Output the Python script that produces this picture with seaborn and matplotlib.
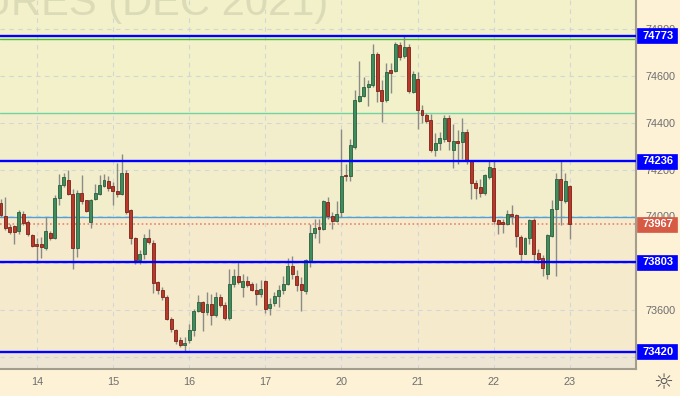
import numpy as np
import pandas as pd
import matplotlib
matplotlib.use("Agg")
import matplotlib.pyplot as plt
import matplotlib.patches as mpatches
import seaborn as sns

# candle data (one row per bar)
opens = [74057, 74002, 73954, 73957, 73937, 74012, 73976, 73919, 73883, 73880,
         73866, 73930, 73907, 74080, 74136, 74155, 74095, 73866, 74100, 74069,
         73976, 74076, 74095, 74129, 74150, 74129, 74107, 74097, 74186, 74029,
         73907, 73812, 73837, 73909, 73886, 73719, 73683, 73657, 73562, 73516,
         73472, 73450, 73469, 73512, 73597, 73633, 73590, 73626, 73576, 73657,
         73619, 73566, 73712, 73743, 73697, 73722, 73709, 73683, 73669, 73722,
         73607, 73630, 73660, 73686, 73709, 73789, 73747, 73709, 73680, 73809,
         73929, 73954, 73945, 74060, 74003, 73980, 74019, 74176, 74173, 74297,
         74494, 74515, 74552, 74562, 74693, 74540, 74497, 74626, 74623, 74733,
         74686, 74723, 74533, 74590, 74455, 74433, 74412, 74283, 74314, 74333,
         74423, 74286, 74322, 74319, 74361, 74237, 74143, 74126, 74098, 74169,
         74209, 73983, 73976, 73969, 74012, 74005, 73912, 73840, 73909, 73986,
         73843, 73823, 73752, 73914, 74033, 74158, 74066, 74129]
highs = [74076, 74083, 73969, 73962, 74026, 74023, 73983, 73923, 73906, 73912,
         73996, 73937, 74090, 74183, 74186, 74197, 74119, 74112, 74176, 74072,
         74076, 74140, 74176, 74183, 74172, 74147, 74229, 74269, 74197, 74030,
         73910, 73855, 73926, 73948, 73897, 73722, 73700, 73662, 73569, 73520,
         73483, 73483, 73540, 73605, 73662, 73640, 73676, 73669, 73676, 73669,
         73633, 73776, 73776, 73804, 73755, 73747, 73719, 73714, 73729, 73729,
         73650, 73676, 73705, 73743, 73822, 73829, 73769, 73740, 73819, 73969,
         73990, 73990, 74072, 74083, 74019, 74065, 74373, 74223, 74333, 74540,
         74666, 74597, 74583, 74737, 74704, 74583, 74655, 74657, 74747, 74747,
         74773, 74737, 74623, 74619, 74476, 74442, 74437, 74355, 74362, 74433,
         74433, 74397, 74369, 74423, 74372, 74237, 74155, 74162, 74183, 74237,
         74237, 73990, 73990, 74026, 74047, 74012, 73919, 73912, 73990, 73995,
         73862, 73833, 73926, 74069, 74186, 74236, 74186, 74133]
lows = [73997, 73940, 73926, 73883, 73926, 73962, 73915, 73869, 73799, 73823,
        73855, 73897, 73905, 74047, 74126, 74090, 73773, 73826, 74055, 74019,
        73952, 74069, 74090, 74126, 74109, 74047, 74083, 74090, 74009, 73883,
        73798, 73798, 73819, 73883, 73672, 73669, 73643, 73555, 73504, 73455,
        73440, 73420, 73457, 73490, 73590, 73509, 73576, 73536, 73569, 73612,
        73558, 73558, 73700, 73712, 73655, 73700, 73679, 73619, 73655, 73586,
        73576, 73616, 73614, 73669, 73705, 73733, 73680, 73597, 73669, 73783,
        73909, 73887, 73942, 73987, 73948, 73976, 73997, 74152, 74152, 74290,
        74490, 74509, 74472, 74554, 74490, 74404, 74490, 74526, 74619, 74669,
        74676, 74529, 74526, 74372, 74400, 74400, 74276, 74257, 74283, 74319,
        74283, 74209, 74226, 74247, 74226, 74076, 74076, 74083, 74090, 74162,
        73969, 73923, 73929, 73962, 73969, 73869, 73804, 73837, 73883, 73804,
        73800, 73747, 73733, 73912, 73743, 73962, 74057, 73905]
closes = [74005, 73952, 73933, 73933, 74019, 73972, 73923, 73872, 73875, 73869,
          73937, 73907, 74080, 74133, 74169, 74095, 73866, 74100, 74065, 74023,
          74072, 74100, 74136, 74155, 74123, 74109, 74097, 74186, 74019, 73907,
          73812, 73840, 73909, 73890, 73714, 73683, 73654, 73562, 73519, 73465,
          73450, 73460, 73512, 73597, 73633, 73590, 73626, 73580, 73657, 73619,
          73565, 73712, 73743, 73719, 73722, 73705, 73683, 73669, 73690, 73605,
          73626, 73659, 73683, 73712, 73786, 73755, 73705, 73683, 73812, 73930,
          73952, 73947, 74065, 74001, 73980, 74009, 74172, 74172, 74305, 74500,
          74516, 74552, 74566, 74695, 74537, 74494, 74619, 74614, 74737, 74683,
          74723, 74537, 74609, 74455, 74433, 74409, 74283, 74316, 74337, 74423,
          74323, 74322, 74314, 74361, 74243, 74143, 74123, 74098, 74176, 74212,
          73980, 73969, 73969, 74009, 74003, 73915, 73840, 73907, 73986, 73840,
          73819, 73780, 73919, 74033, 74162, 74069, 74150, 73967]

day_labels = ["14", "15", "16", "17", "20", "21", "22", "23"]
day_start_bar = [8, 25, 42, 59, 76, 93, 110, 127]

resistance_levels = [74773, 74236]
support_levels = [73803, 73420]
last_price = 73967
green_level = 74757
teal_level = 74443
lightblue_level = 73997
price_ticks = [73400, 73600, 73800, 74000, 74200, 74400, 74600, 74800]
# ticks fully covered by a price tag in the chart
hidden_ticks = [73400, 73800]

df = pd.DataFrame({"open": opens, "high": highs, "low": lows, "close": closes})
df["bar"] = np.arange(len(df))
df["up"] = df["close"] >= df["open"]

sns.set_theme(style="white")
plt.rcParams["font.family"] = ["Liberation Sans", "DejaVu Sans"]

panel_bg = "#fdf1d6"
fig = plt.figure(figsize=(6.8, 3.96), dpi=100, facecolor=panel_bg)
ax = fig.add_axes([0, 27 / 396, 636 / 680, 369 / 396])
ax.set_facecolor("#f4edcc")

ymin, ymax = 73347, 74926
ax.set_ylim(ymin, ymax)
ax.set_xlim(-0.22, 141.78)

# background bands
ax.axhspan(teal_level, ymax, color="#f2f1c9", zorder=0, lw=0)
ax.axhspan(lightblue_level, teal_level, color="#f2eecc", zorder=0, lw=0)
ax.axhspan(support_levels[1], lightblue_level, color="#f6eacd", zorder=0, lw=0)
ax.axhspan(ymin, support_levels[1], color="#eee6d5", zorder=0, lw=0)

# watermark (cut by the top and left edges, as in the terminal)
ax.text(0.516, 74862, "FUTURES (DEC 2021)", transform=ax.get_yaxis_transform(),
        ha="right", va="baseline", fontsize=30, color="#dcdbb8", zorder=0.6, clip_on=True)

# grid
ax.set_axisbelow(True)
ax.set_yticks(price_ticks)
ax.set_xticks(day_start_bar)
ax.grid(True, ls=(0, (4, 4)), color="#d2d6d6", lw=0.8)

# level lines
ax.axhline(green_level, color="#46bb3a", lw=1.0, zorder=2)
ax.axhline(teal_level, color="#6fd3a2", lw=1.0, zorder=2)
ax.axhline(lightblue_level, color="#4ea2d6", lw=1.0, zorder=2)
ax.axhline(last_price, color="#e8866c", lw=1.2, ls=(0, (1, 1.5)), zorder=2)

# candles
wick_c = "#8a8a86"
ax.vlines(df["bar"], df["low"], df["high"], color=wick_c, lw=1.0, zorder=3)
body_low = np.minimum(df["open"], df["close"])
body_h = np.maximum(np.abs(df["close"] - df["open"]), 6)
up = df["up"].values
ax.bar(df["bar"][up], body_h[up], bottom=body_low[up], width=0.66,
       color="#3f8c5c", edgecolor="#2b5f3e", lw=0.6, zorder=4)
ax.bar(df["bar"][~up], body_h[~up], bottom=body_low[~up], width=0.66,
       color="#b8382a", edgecolor="#7c2118", lw=0.6, zorder=4)

# blue levels on top
for lvl in resistance_levels + support_levels:
    ax.axhline(lvl, color="#0000ff", lw=1.7, zorder=5)

# axis styling
ax.yaxis.tick_right()
ax.set_yticklabels(["" if t in hidden_ticks else str(t) for t in price_ticks])
ax.set_xticklabels(day_labels)
ax.tick_params(axis="y", length=0, pad=7, labelsize=7.8, labelcolor="#6e6e6e")
ax.tick_params(axis="x", length=0, pad=6, labelsize=7.8, labelcolor="#6e6e6e")
for side in ["top", "left"]:
    ax.spines[side].set_visible(False)
for side in ["right", "bottom"]:
    ax.spines[side].set_color("#a39d8e")
    ax.spines[side].set_linewidth(1.5)

# price tags in right panel
tag_h = 15 * (ymax - ymin) / 369


def price_tag(price, face):
    rect = mpatches.Rectangle((1.002, price - tag_h / 2), 0.062, tag_h,
                              transform=ax.get_yaxis_transform(), clip_on=False,
                              facecolor=face, edgecolor=face, lw=0.5, zorder=6)
    ax.add_patch(rect)
    ax.text(1.034, price, str(price), transform=ax.get_yaxis_transform(),
            ha="center", va="center", fontsize=8, fontweight="bold",
            color="white", zorder=7, clip_on=False)


for lvl in resistance_levels + support_levels:
    price_tag(lvl, "#0000ff")
price_tag(last_price, "#d65a44")

# settings icon
fig.text(663 / 680, 1 - 383 / 396, "\u263c", fontsize=16, color="#555555",
         ha="center", va="center", family="DejaVu Sans")

fig.savefig("out.png", dpi=100, facecolor=panel_bg)
